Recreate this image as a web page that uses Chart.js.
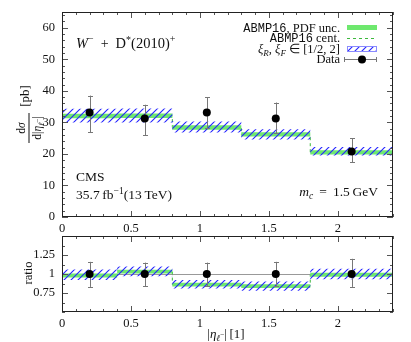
<!DOCTYPE html>
<html>
<head>
<meta charset="utf-8">
<script src="https://cdn.jsdelivr.net/npm/chart.js@4/dist/chart.umd.min.js"></script>
<style>
  body { margin: 0; background: #fff; }
  #wrap { position: relative; width: 411px; height: 342px; }
  canvas { position: absolute; left: 0; }
</style>
</head>
<body>
<div id="wrap">
  <canvas id="mainChart" width="411" height="235" style="top:0"></canvas>
  <canvas id="ratioChart" width="411" height="110" style="top:232px"></canvas>
</div>
<script>
// bins in |eta| and the measured points
const binEdges = [0, 0.4, 0.8, 1.3, 1.8, 2.4];
const dataX = [0.2, 0.6, 1.05, 1.55, 2.1];
const dataY = [33.1, 31.2, 33.1, 31.2, 20.8];
const dataHi = [38.5, 35.6, 37.9, 36.3, 24.9];
const dataLo = [26.8, 25.9, 28.2, 26.5, 17.3];

// ABMP16 prediction (main panel)
const theoryCent = [32.0, 32.1, 28.4, 26.2, 20.5];
const pdfHi = [32.7, 32.8, 29.1, 26.9, 21.2];
const pdfLo = [31.3, 31.4, 27.7, 25.5, 19.8];
const scaleHi = [34.3, 34.4, 30.3, 27.8, 22.2];
const scaleLo = [30.0, 30.0, 26.8, 24.6, 19.5];

// ratio panel
const ratioCent = [0.98, 1.03, 0.86, 0.84, 0.99];
const ratioPdfHi = [1.005, 1.055, 0.885, 0.865, 1.015];
const ratioPdfLo = [0.955, 1.005, 0.835, 0.815, 0.965];
const ratioScaleHi = [1.06, 1.10, 0.92, 0.90, 1.07];
const ratioScaleLo = [0.92, 0.97, 0.81, 0.78, 0.93];
const dataRatio = [1, 1, 1, 1, 1];
const ratioErrHi = [1.16, 1.15, 1.15, 1.16, 1.20];
const ratioErrLo = [0.83, 0.84, 0.84, 0.84, 0.83];

// ticks
const xMajor = [0, 0.5, 1, 1.5, 2];
const mainYMajor = [0, 10, 20, 30, 40, 50, 60];
const ratioYMajor = [0.75, 1, 1.25];

const GREEN = '#6ee86e';
const DASH_GREEN = '#3cb83c';
const BLUE = '#2424ff';
const R = s => s + 'px "Liberation Serif"';
const I = s => 'italic ' + s + 'px "Liberation Serif"';
const M = s => s + 'px "Liberation Mono"';

function steps(vals) {
    return binEdges.map((x, i) => ({ x: x, y: vals[Math.min(i, vals.length - 1)] }));
}

function hatch(ctx) {
    const c = document.createElement('canvas');
    c.width = 7; c.height = 7;
    const g = c.getContext('2d');
    g.strokeStyle = BLUE;
    g.lineWidth = 1.1;
    g.beginPath();
    [-7, 0, 7].forEach(k => { g.moveTo(k - 1, 8); g.lineTo(k + 8, -1); });
    g.stroke();
    return ctx.createPattern(c, 'repeat');
}

// draws a run of text pieces: [text, font, dy]
function rich(ctx, parts, x, y, align) {
    let total = 0;
    const ws = parts.map(p => { ctx.font = p[1]; const w = ctx.measureText(p[0]).width; total += w; return w; });
    if (align === 'right') x -= total;
    if (align === 'center') x -= total / 2;
    parts.forEach((p, i) => {
        ctx.font = p[1];
        ctx.fillText(p[0], x, y + (p[2] || 0));
        x += ws[i];
    });
}

function range(a, b, step) {
    const out = [];
    for (let v = a; v <= b + 1e-9; v += step) out.push(+v.toFixed(4));
    return out;
}

const decor = {
    id: 'decor',
    beforeDatasetsDraw(chart) {
        const o = chart.options.plugins.decor;
        if (!o.unityLine) return;
        const { ctx, chartArea: a, scales: { y } } = chart;
        const py = Math.round(y.getPixelForValue(1)) + 0.5;
        ctx.save();
        ctx.strokeStyle = '#999';
        ctx.lineWidth = 1;
        ctx.beginPath(); ctx.moveTo(a.left, py); ctx.lineTo(a.right, py); ctx.stroke();
        ctx.restore();
    },
    beforeDatasetDraw(chart, args) {
        if (args.index !== 0) return;
        const o = chart.options.plugins.decor;
        const { ctx, scales: { x, y } } = chart;
        ctx.save();
        ctx.strokeStyle = '#777';
        ctx.lineWidth = 1;
        o.errX.forEach((v, i) => {
            const px = Math.round(x.getPixelForValue(v)) + 0.5;
            const y1 = y.getPixelForValue(o.errHi[i]);
            const y2 = y.getPixelForValue(o.errLo[i]);
            ctx.beginPath();
            ctx.moveTo(px, y1); ctx.lineTo(px, y2);
            ctx.moveTo(px - 2.5, Math.round(y1) + 0.5); ctx.lineTo(px + 2.5, Math.round(y1) + 0.5);
            ctx.moveTo(px - 2.5, Math.round(y2) + 0.5); ctx.lineTo(px + 2.5, Math.round(y2) + 0.5);
            ctx.stroke();
        });
        ctx.restore();
    },
    afterDatasetsDraw(chart) {
        const o = chart.options.plugins.decor;
        const { ctx, chartArea: a, scales: { x, y } } = chart;
        ctx.save();
        ctx.strokeStyle = '#555';
        ctx.lineWidth = 1;
        ctx.beginPath();
        const xt = (v, len) => {
            const px = Math.round(x.getPixelForValue(v)) + 0.5;
            ctx.moveTo(px, a.bottom); ctx.lineTo(px, a.bottom - len);
            ctx.moveTo(px, a.top); ctx.lineTo(px, a.top + len);
        };
        const yt = (v, len) => {
            const py = Math.round(y.getPixelForValue(v)) + 0.5;
            ctx.moveTo(a.left, py); ctx.lineTo(a.left + len, py);
            ctx.moveTo(a.right, py); ctx.lineTo(a.right - len, py);
        };
        range(0, 2.4, 0.1).forEach(v => xt(v, 3));
        xMajor.forEach(v => xt(v, 6));
        o.yMinor.forEach(v => yt(v, 3));
        o.yMajor.forEach(v => yt(v, 6));
        ctx.stroke();
        ctx.strokeStyle = '#222';
        ctx.strokeRect(a.left + 0.5, a.top + 0.5, a.right - a.left - 1, a.bottom - a.top - 1);
        ctx.restore();
    },
    afterDraw(chart) {
        const o = chart.options.plugins.decor;
        const ctx = chart.ctx;
        ctx.save();
        ctx.fillStyle = '#111';
        ctx.textBaseline = 'alphabetic';
        if (o.main) {
            rich(ctx, [['W', I(14.5)], ['\u2212', R(10), -6], ['  +  ', R(14)], ['D', R(14.5)], ['*', R(10), -5], ['(2010)', R(14.5)], ['+', R(10), -6]], 76, 48);
            rich(ctx, [['CMS', R(13.5)]], 76, 181);
            rich(ctx, [['35.7\u2009fb', R(13.5)], ['\u22121', R(9.5), -5], ['(13\u2009TeV)', R(13.5)]], 76, 199);
            rich(ctx, [['m', I(13.5)], ['c', I(9.5), 3], [' \u2009=\u2009 1.5\u2009GeV', R(13.5)]], 378, 196, 'right');

            // legend
            const tx = 340;
            rich(ctx, [['ABMP16', M(12)], [', PDF unc.', R(12.5)]], tx, 31.5, 'right');
            rich(ctx, [['ABMP16', M(12)], [' cent.', R(12.5)]], tx, 42, 'right');
            rich(ctx, [['\u03be', I(12.5)], ['R', I(9), 3], [', ', R(12.5)], ['\u03be', I(12.5)], ['F', I(9), 3], [' \u2208 [1/2, 2]', R(12.5)]], tx, 53, 'right');
            rich(ctx, [['Data', R(12.5)]], tx, 63, 'right');
            ctx.fillStyle = GREEN;
            ctx.fillRect(347, 25, 30, 5);
            ctx.strokeStyle = DASH_GREEN;
            ctx.setLineDash([3, 3]);
            ctx.beginPath(); ctx.moveTo(347, 38.5); ctx.lineTo(377, 38.5); ctx.stroke();
            ctx.setLineDash([]);
            ctx.fillStyle = o.pattern;
            ctx.fillRect(347, 46, 30, 6);
            ctx.strokeStyle = '#8a8aff';
            ctx.strokeRect(347.5, 46.5, 29, 5);
            ctx.strokeStyle = '#777';
            ctx.beginPath();
            ctx.moveTo(344, 59.5); ctx.lineTo(377, 59.5);
            ctx.moveTo(344.5, 57); ctx.lineTo(344.5, 62);
            ctx.moveTo(376.5, 57); ctx.lineTo(376.5, 62);
            ctx.stroke();
            ctx.fillStyle = '#000';
            ctx.beginPath(); ctx.arc(362, 59.5, 4, 0, Math.PI * 2); ctx.fill();

            // y title: d sigma / d|eta| [pb]
            ctx.fillStyle = '#111';
            ctx.translate(29, 114);
            ctx.rotate(-Math.PI / 2);
            rich(ctx, [['d', R(11.5)], ['\u03c3', I(11.5)]], -14, -4, 'center');
            rich(ctx, [['d|', R(11.5)], ['\u03b7', I(11.5)], ['\u2113', I(8), 3], ['\u2212', R(7), -1], ['|', R(11.5)]], -14, 12, 'center');
            ctx.fillRect(-29, -0.5, 30, 1);
            rich(ctx, [['[pb]', R(13)]], 18, 0, 'center');
        } else {
            rich(ctx, [['|', R(13)], ['\u03b7', I(13)], ['\u2113', I(9), 3], ['\u2212', R(7.5), -1], ['|\u2009[1]', R(13)]], 226, 106, 'center');
            ctx.translate(29, 41);
            ctx.rotate(-Math.PI / 2);
            ctx.textBaseline = 'middle';
            rich(ctx, [['ratio', R(12.5)]], 0, 0, 'center');
        }
        ctx.restore();
    }
};

// dataset order: later index is drawn first, so the dashed centre sits under
// the green band and the hatching goes on top of everything but the data
function bandSets(cent, hiS, loS, hiP, loP, pattern, pts) {
    const line = { showLine: true, stepped: true, pointRadius: 0, borderWidth: 0, borderColor: 'rgba(0,0,0,0)' };
    return [
        { data: pts, showLine: false, pointRadius: 4, backgroundColor: '#000', borderColor: '#000', borderWidth: 0 },
        Object.assign({ data: steps(hiS), fill: '+1', backgroundColor: pattern }, line),
        Object.assign({ data: steps(loS), fill: false }, line),
        Object.assign({ data: steps(hiP), fill: '+1', backgroundColor: GREEN }, line),
        Object.assign({ data: steps(loP), fill: false }, line),
        { data: steps(cent), showLine: true, stepped: true, pointRadius: 0, borderWidth: 1, borderColor: DASH_GREEN, borderDash: [3, 3], fill: false }
    ];
}

function tickOpts() {
    return { font: { family: 'Liberation Serif', size: 12.5 }, color: '#111', maxRotation: 0, autoSkip: false, callback: v => String(v) };
}

function makeScales(yMin, yMax, yTicks, xHeight) {
    return {
        x: {
            type: 'linear', min: 0, max: 2.4,
            afterBuildTicks: s => { s.ticks = xMajor.map(v => ({ value: v })); },
            afterFit: s => { s.height = xHeight; s.paddingLeft = 0; s.paddingRight = 0; },
            grid: { display: false, drawTicks: false },
            border: { display: false },
            ticks: Object.assign(tickOpts(), { padding: 4 })
        },
        y: {
            min: yMin, max: yMax,
            afterBuildTicks: s => { s.ticks = yTicks.map(v => ({ value: v })); },
            afterFit: s => { s.width = 62; s.paddingTop = 0; s.paddingBottom = 0; },
            grid: { display: false, drawTicks: false },
            border: { display: false },
            ticks: Object.assign(tickOpts(), { padding: 7 })
        }
    };
}

const mainCtx = document.getElementById('mainChart').getContext('2d');
const mainPattern = hatch(mainCtx);
new Chart(mainCtx, {
    type: 'scatter',
    data: {
        datasets: bandSets(theoryCent, scaleHi, scaleLo, pdfHi, pdfLo, mainPattern,
            dataX.map((x, i) => ({ x: x, y: dataY[i] })))
    },
    options: {
        responsive: false,
        animation: false,
        events: [],
        layout: { padding: { left: 0, right: 18, top: 12, bottom: 0 } },
        plugins: {
            legend: { display: false },
            tooltip: { enabled: false },
            decor: {
                main: true, pattern: mainPattern,
                errX: dataX, errHi: dataHi, errLo: dataLo,
                yMajor: mainYMajor, yMinor: range(0, 64, 2)
            }
        },
        scales: makeScales(0, 65, mainYMajor, 18)
    },
    plugins: [decor]
});

const ratioCtx = document.getElementById('ratioChart').getContext('2d');
const ratioPattern = hatch(ratioCtx);
new Chart(ratioCtx, {
    type: 'scatter',
    data: {
        datasets: bandSets(ratioCent, ratioScaleHi, ratioScaleLo, ratioPdfHi, ratioPdfLo, ratioPattern,
            dataX.map((x, i) => ({ x: x, y: dataRatio[i] })))
    },
    options: {
        responsive: false,
        animation: false,
        events: [],
        layout: { padding: { left: 0, right: 18, top: 3, bottom: 0 } },
        plugins: {
            legend: { display: false },
            tooltip: { enabled: false },
            decor: {
                main: false, unityLine: true,
                errX: dataX, errHi: ratioErrHi, errLo: ratioErrLo,
                yMajor: ratioYMajor, yMinor: range(0.5, 1.5, 0.125)
            }
        },
        scales: makeScales(0.5, 1.5, ratioYMajor, 30)
    },
    plugins: [decor]
});
</script>
</body>
</html>
